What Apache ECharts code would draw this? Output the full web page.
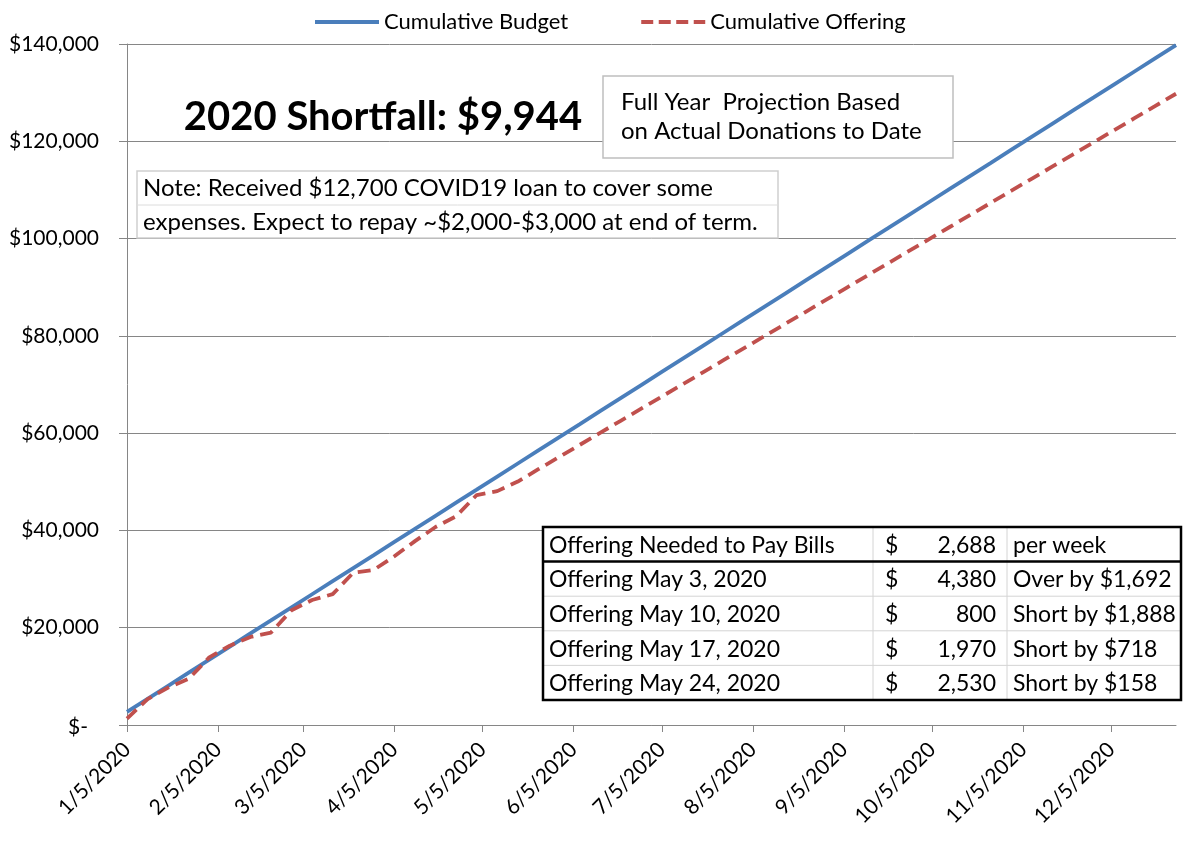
<!DOCTYPE html>
<html>
<head>
<meta charset="utf-8">
<script src="https://cdn.jsdelivr.net/npm/echarts@6/dist/echarts.min.js"></script>
<style>
html,body{margin:0;padding:0;background:#fff;}
#chart{width:1183px;height:842px;}
</style>
</head>
<body>
<div id="chart"></div>
<script>
// ---- Data ----
const weekDates = [
  '2020-01-05','2020-01-12','2020-01-19','2020-01-26',
  '2020-02-02','2020-02-09','2020-02-16','2020-02-23',
  '2020-03-01','2020-03-08','2020-03-15','2020-03-22','2020-03-29',
  '2020-04-05','2020-04-12','2020-04-19','2020-04-26',
  '2020-05-03','2020-05-10','2020-05-17','2020-05-24','2020-05-31',
  '2020-06-07','2020-06-14','2020-06-21','2020-06-28',
  '2020-07-05','2020-07-12','2020-07-19','2020-07-26',
  '2020-08-02','2020-08-09','2020-08-16','2020-08-23','2020-08-30',
  '2020-09-06','2020-09-13','2020-09-20','2020-09-27',
  '2020-10-04','2020-10-11','2020-10-18','2020-10-25',
  '2020-11-01','2020-11-08','2020-11-15','2020-11-22','2020-11-29',
  '2020-12-06','2020-12-13','2020-12-20','2020-12-27'
];
const cumulativeBudget = [
  2690, 5380, 8060, 10750, 13440, 16130, 18820, 21500, 24190, 26880,
  29570, 32260, 34940, 37630, 40320, 43010, 45700, 48380, 51070, 53760,
  56450, 59140, 61820, 64510, 67200, 69890, 72580, 75260, 77950, 80640,
  83330, 86020, 88700, 91390, 94080, 96770, 99460, 102140, 104830, 107520,
  110210, 112900, 115580, 118270, 120960, 123650, 126340, 129020, 131710, 134400,
  137090, 139780
];
const cumulativeOffering = [
  1300, 5300, 7700, 9500, 13900, 16300, 18100, 19000, 23600, 25700,
  26900, 31300, 31900, 34700, 37800, 40700, 42900, 47280, 48080, 50050,
  52580, 55070, 57560, 60050, 62540, 65030, 67520, 70010, 72500, 74990,
  77480, 79970, 82460, 84950, 87440, 89930, 92420, 94910, 97400, 99890,
  102380, 104870, 107360, 109850, 112340, 114830, 117320, 119810, 122300, 124790,
  127280, 129770
];
const monthTickDates = [
  '2020-01-05','2020-02-05','2020-03-05','2020-04-05','2020-05-05','2020-06-05',
  '2020-07-05','2020-08-05','2020-09-05','2020-10-05','2020-11-05','2020-12-05'
];
const seriesNames = ['Cumulative Budget', 'Cumulative Offering'];
const shortfallText = '2020 Shortfall: $9,944';
const projectionLines = ['Full Year  Projection Based', 'on Actual Donations to Date'];
const noteLines = ['Note: Received $12,700 COVID19 loan to cover some', 'expenses. Expect to repay ~$2,000-$3,000 at end of term.'];
const tableRows = [
  ['Offering Needed to Pay Bills', '$', '2,688', 'per week'],
  ['Offering May 3, 2020', '$', '4,380', 'Over by $1,692'],
  ['Offering May 10, 2020', '$', '800', 'Short by $1,888'],
  ['Offering May 17, 2020', '$', '1,970', 'Short by $718'],
  ['Offering May 24, 2020', '$', '2,530', 'Short by $158']
];

const FONT = 'Lato';
const BLUE = '#4A7EBB', RED = '#C0504D';
function toTs(s) { const p = s.split('-').map(Number); return Date.UTC(p[0], p[1] - 1, p[2]); }
function fmtDate(v) { const d = new Date(v); return (d.getUTCMonth() + 1) + '/' + d.getUTCDate() + '/' + d.getUTCFullYear(); }
function fmtMoney(v) { return v === 0 ? '{z|$-}' : '$' + v.toLocaleString('en-US'); }

const chart = echarts.init(document.getElementById('chart'), null, {renderer: 'canvas'});
const monthTicks = monthTickDates.map(toTs);

// Table graphics
const tX = 543, tY = 527, tW = 638, rowH = 34.6;
const colX = [543, 873, 1007, 1181];
const tableEls = [];
tableEls.push({type: 'rect', shape: {x: tX, y: tY, width: tW, height: rowH * 5}, style: {fill: '#fff', stroke: null}, z: 10});
for (let i = 2; i < 5; i++) {
  tableEls.push({type: 'line', shape: {x1: tX, y1: tY + rowH * i, x2: tX + tW, y2: tY + rowH * i}, style: {stroke: '#d4d4d4', lineWidth: 1}, z: 11});
}
[colX[1], colX[2]].forEach(x => {
  tableEls.push({type: 'line', shape: {x1: x, y1: tY, x2: x, y2: tY + rowH * 5}, style: {stroke: '#d4d4d4', lineWidth: 1}, z: 11});
});
tableEls.push({type: 'line', shape: {x1: tX, y1: tY + rowH, x2: tX + tW, y2: tY + rowH}, style: {stroke: '#000', lineWidth: 2.5}, z: 12});
tableEls.push({type: 'rect', shape: {x: tX, y: tY, width: tW, height: rowH * 5}, style: {fill: null, stroke: '#000', lineWidth: 2.5}, z: 12});
tableRows.forEach((r, i) => {
  const cy = tY + rowH * i + rowH / 2 + 1;
  const ts = {fontFamily: FONT, fontSize: 23, fill: '#000', verticalAlign: 'middle'};
  tableEls.push({type: 'text', x: 549, y: cy, style: Object.assign({text: r[0], align: 'left'}, ts), z: 13});
  tableEls.push({type: 'text', x: 885, y: cy, style: Object.assign({text: r[1], align: 'left'}, ts), z: 13});
  tableEls.push({type: 'text', x: 996, y: cy, style: Object.assign({text: r[2], align: 'right'}, ts), z: 13});
  tableEls.push({type: 'text', x: 1013, y: cy, style: Object.assign({text: r[3], align: 'left'}, ts), z: 13});
});

const option = {
  animation: false,
  backgroundColor: '#fff',
  textStyle: {fontFamily: FONT},
  legend: {
    top: 6,
    left: 310,
    itemWidth: 64,
    itemHeight: 4,
    itemGap: 73,
    textStyle: {fontFamily: FONT, fontSize: 22, color: '#000'},
    data: [
      {name: seriesNames[0], icon: 'path://M0,0H64V4H0Z'},
      {name: seriesNames[1], icon: 'path://M0,0H12V4H0Z M17.5,0H29.5V4H17.5Z M35,0H47V4H35Z M52.5,0H64V4H52.5Z'}
    ]
  },
  grid: {left: 127, right: 7, top: 44, bottom: 117, containLabel: false},
  xAxis: {
    type: 'value',
    min: toTs(weekDates[0]),
    max: toTs(weekDates[weekDates.length - 1]),
    axisLine: {show: true, onZero: false, lineStyle: {color: '#868686', width: 1}},
    axisTick: {show: true, length: 7, customValues: monthTicks, lineStyle: {color: '#868686'}},
    splitLine: {show: false},
    axisLabel: {
      customValues: monthTicks,
      rotate: 45,
      margin: 21,
      fontFamily: FONT,
      fontSize: 21,
      color: '#000',
      formatter: fmtDate
    }
  },
  yAxis: {
    type: 'value',
    min: 0,
    max: 140000,
    interval: 20000,
    axisLine: {show: true, lineStyle: {color: '#868686', width: 1}},
    axisTick: {show: true, length: 8, lineStyle: {color: '#868686'}},
    splitLine: {show: true, lineStyle: {color: '#868686', width: 1}},
    axisLabel: {
      margin: 28, fontFamily: FONT, fontSize: 21, color: '#000', formatter: fmtMoney,
      rich: {z: {fontFamily: FONT, fontSize: 21, color: '#000', padding: [4, 11, 0, 0]}}
    }
  },
  series: [
    {
      name: seriesNames[0],
      type: 'line',
      data: weekDates.map((d, i) => [toTs(d), cumulativeBudget[i]]),
      showSymbol: false,
      symbol: 'none',
      lineStyle: {color: BLUE, width: 3.8},
      itemStyle: {color: BLUE},
      z: 3
    },
    {
      name: seriesNames[1],
      type: 'line',
      data: weekDates.map((d, i) => [toTs(d), cumulativeOffering[i]]),
      showSymbol: false,
      symbol: 'none',
      lineStyle: {color: RED, width: 3.8, type: [13, 7]},
      itemStyle: {color: RED},
      z: 4
    }
  ],
  graphic: [
    {type: 'text', x: 383, y: 117, z: 20, style: {text: shortfallText, fontFamily: FONT, fontWeight: 'bold', fontSize: 40, fill: '#000', align: 'center', verticalAlign: 'middle'}},
    {type: 'rect', z: 20, shape: {x: 603, y: 76, width: 350, height: 82}, style: {fill: '#fff', stroke: '#bfbfbf', lineWidth: 1.5}},
    {type: 'text', x: 621, y: 102, z: 21, style: {text: projectionLines[0], fontFamily: FONT, fontSize: 24, fill: '#000', align: 'left', verticalAlign: 'middle'}},
    {type: 'text', x: 621, y: 131, z: 21, style: {text: projectionLines[1], fontFamily: FONT, fontSize: 24, fill: '#000', align: 'left', verticalAlign: 'middle'}},
    {type: 'rect', z: 20, shape: {x: 137, y: 171, width: 641, height: 67}, style: {fill: '#fff', stroke: '#cfcfcf', lineWidth: 1.5}},
    {type: 'line', z: 21, shape: {x1: 137, y1: 205, x2: 778, y2: 205}, style: {stroke: '#dcdcdc', lineWidth: 1}},
    {type: 'text', x: 143, y: 188, z: 21, style: {text: noteLines[0], fontFamily: FONT, fontSize: 24, fill: '#000', align: 'left', verticalAlign: 'middle'}},
    {type: 'text', x: 143, y: 222, z: 21, style: {text: noteLines[1], fontFamily: FONT, fontSize: 24, fill: '#000', align: 'left', verticalAlign: 'middle'}}
  ].concat(tableEls)
};
chart.setOption(option);
</script>
</body>
</html>
